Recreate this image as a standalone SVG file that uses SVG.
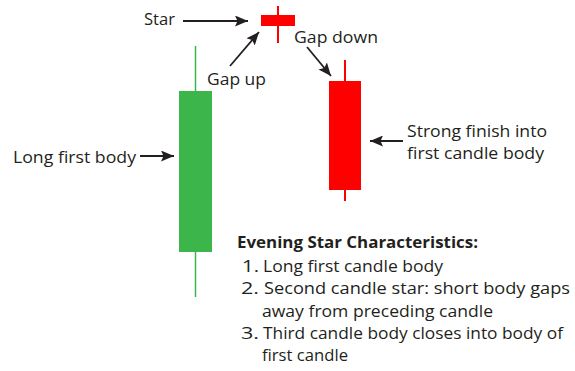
<svg xmlns="http://www.w3.org/2000/svg" width="575" height="371" viewBox="0 0 575 371">
<style>
text{font-family:"Open Sans","Noto Sans","Liberation Sans",sans-serif;font-size:16.5px;fill:#231f20}
.b{font-weight:bold}
.conn{stroke:#231f20;stroke-width:1.8;fill:none;marker-end:url(#ah)}
.gw{stroke:#3cb54a;stroke-width:1.5}
.rw{stroke:#ff0000;stroke-width:2}
</style>
<defs>
<marker id="ah" viewBox="0 0 13 11" refX="13" refY="5.5" markerWidth="13" markerHeight="11" orient="auto" markerUnits="userSpaceOnUse">
<path d="M0,0 L13,5.5 L0,11 L2.5,5.5 z" fill="#231f20"/>
</marker>
</defs>
<rect width="575" height="371" fill="#ffffff"/>
<g id="candle1">
<line class="gw" x1="195.5" y1="46" x2="195.5" y2="297"/>
<rect x="179" y="91" width="33" height="161" fill="#3cb54a"/>
</g>
<g id="candle2">
<line class="rw" x1="278" y1="6" x2="278" y2="43"/>
<rect x="261" y="15" width="34" height="11" fill="#ff0000"/>
</g>
<g id="candle3">
<line class="rw" x1="345" y1="60" x2="345" y2="201"/>
<rect x="329" y="81" width="32" height="109" fill="#ff0000"/>
</g>
<g id="connectors">
<line class="conn" x1="183" y1="21" x2="248" y2="21"/>
<line class="conn" x1="230" y1="66" x2="259" y2="32"/>
<line class="conn" x1="307" y1="47" x2="331" y2="76"/>
<line class="conn" x1="140" y1="156" x2="174" y2="156"/>
<line class="conn" x1="403" y1="141" x2="370" y2="141"/>
</g>
<g id="label-star"><text x="144" y="25" textLength="31" lengthAdjust="spacingAndGlyphs">Star</text></g>
<g id="label-gapup"><text x="207" y="85" textLength="59" lengthAdjust="spacingAndGlyphs">Gap up</text></g>
<g id="label-gapdown"><text x="294" y="43" textLength="84" lengthAdjust="spacingAndGlyphs">Gap down</text></g>
<g id="label-long"><text x="13" y="162.5" textLength="123" lengthAdjust="spacingAndGlyphs">Long first body</text></g>
<g id="label-strong">
<text x="407" y="137" textLength="140" lengthAdjust="spacingAndGlyphs">Strong finish into</text>
<text x="407" y="159" textLength="137" lengthAdjust="spacingAndGlyphs">first candle body</text>
</g>
<g id="characteristics">
<text class="b" x="237" y="248" textLength="241" lengthAdjust="spacingAndGlyphs">Evening Star Characteristics:</text>
<text x="242" y="271.5" textLength="17" lengthAdjust="spacingAndGlyphs">1.</text>
<text x="263" y="271.5" textLength="180" lengthAdjust="spacingAndGlyphs">Long first candle body</text>
<text x="241" y="294" textLength="18" lengthAdjust="spacingAndGlyphs">2.</text>
<text x="264" y="294" textLength="306" lengthAdjust="spacingAndGlyphs">Second candle star: short body gaps</text>
<text x="262" y="316.5" textLength="231" lengthAdjust="spacingAndGlyphs">away from preceding candle</text>
<text x="241" y="339" textLength="18" lengthAdjust="spacingAndGlyphs">3.</text>
<text x="263" y="339" textLength="300" lengthAdjust="spacingAndGlyphs">Third candle body closes into body of</text>
<text x="262" y="361" textLength="86" lengthAdjust="spacingAndGlyphs">first candle</text>
</g>
</svg>
